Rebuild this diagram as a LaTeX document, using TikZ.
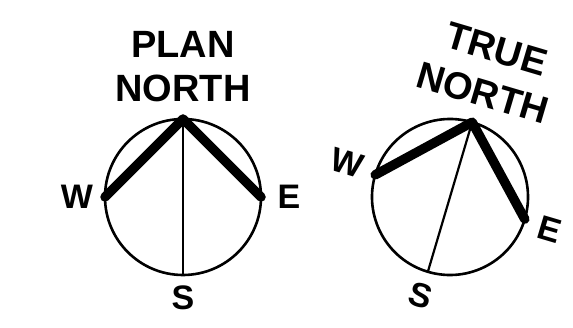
\documentclass[tikz,border=0pt]{standalone}
\usepackage{fontspec}
\setmainfont{Liberation Sans}
\tikzset{
  ring/.style={line width=2.6pt},
  needle/.style={line width=9.5pt, line cap=round, line join=round},
  meridian/.style={line width=2.2pt},
  letra/.style={font=\bfseries\fontsize{34}{34}\selectfont, inner sep=0pt},
  titulo/.style={font=\bfseries\fontsize{38}{38}\selectfont, inner sep=0pt},
}
\begin{document}
\begin{tikzpicture}[x=1pt,y=1pt]
    \def\rr{78}     % radio
    \def\giro{-16.5} % giro del norte verdadero

    \useasboundingbox (0,0) rectangle (573,327);

    % norte del plano
    \begin{scope}[shift={(183,130)}]
        \draw[ring] (0,0) circle [radius=\rr];
        \coordinate (pn) at (90:\rr);
        \coordinate (pw) at (180:\rr);
        \coordinate (pe) at (0:\rr);
        \coordinate (ps) at (270:\rr);
        \draw[meridian] (pn) -- (ps);
        \draw[needle] (pw) -- (pn) -- (pe);

        \node[letra] (pwl) at (180:106) {W};
        \node[letra] (pel) at (0:106) {E};
        \node[letra] (psl) at (270:101) {S};
        \node[titulo] (pt1) at (90:153) {PLAN};
        \node[titulo] (pt2) at (90:109) {NORTH};
    \end{scope}

    % norte verdadero
    \begin{scope}[shift={(450,130)}, rotate=\giro, transform shape]
        \draw[ring] (0,0) circle [radius=\rr];
        \coordinate (tn) at (90:\rr);
        \coordinate (tw) at (180:\rr);
        \coordinate (te) at (0:\rr);
        \coordinate (ts) at (270:\rr);
        \draw[meridian] (tn) -- (ts);
        \draw[needle] (tw) -- (tn) -- (te);

        \node[letra] (twl) at (178:108) {W};
        \node[letra] (tel) at (-1.5:105) {E};
        \node[letra] (tsl) at (270:103) {S};
        \node[titulo] (tt1) at (89:155) {TRUE};
        \node[titulo] (tt2) at (89:109) {NORTH};
    \end{scope}
\end{tikzpicture}
\end{document}
